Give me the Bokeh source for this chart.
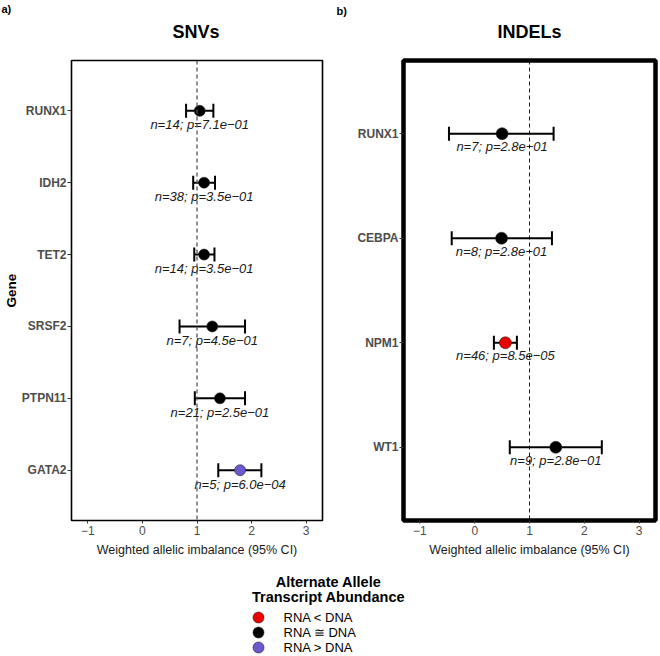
from bokeh.plotting import figure
from bokeh.models import FactorRange, Range1d, FixedTicker, ColumnDataSource, Span
from bokeh.layouts import column, row
from bokeh.core.properties import value
from bokeh.embed import file_html
from bokeh.resources import INLINE

# ---------------- data ----------------
snv_genes = ["RUNX1", "IDH2", "TET2", "SRSF2", "PTPN11", "GATA2"]
snv_est = [1.05, 1.13, 1.13, 1.28, 1.42, 1.79]
snv_lo = [0.80, 0.93, 0.95, 0.68, 0.96, 1.39]
snv_hi = [1.30, 1.33, 1.32, 1.88, 1.88, 2.18]
snv_n = [14, 38, 14, 7, 21, 5]
snv_p = ["7.1e\u221201", "3.5e\u221201", "3.5e\u221201", "4.5e\u221201", "2.5e\u221201", "6.0e\u221204"]
snv_class = ["RNA \u2245 DNA"] * 5 + ["RNA > DNA"]

indel_genes = ["RUNX1", "CEBPA", "NPM1", "WT1"]
indel_est = [0.50, 0.49, 0.56, 1.48]
indel_lo = [-0.47, -0.42, 0.35, 0.64]
indel_hi = [1.44, 1.41, 0.77, 2.32]
indel_n = [7, 8, 46, 9]
indel_p = ["2.8e\u221201", "2.8e\u221201", "8.5e\u221205", "2.8e\u221201"]
indel_class = ["RNA \u2245 DNA", "RNA \u2245 DNA", "RNA < DNA", "RNA \u2245 DNA"]

panel_titles = ["SNVs", "INDELs"]
panel_tags = ["a)", "b)"]

legend_title = ["Alternate Allele", "Transcript Abundance"]
legend_labels = ["RNA < DNA", "RNA \u2245 DNA", "RNA > DNA"]
legend_colors = ["#E60000", "#000000", "#6A5ACD"]
color_map = dict(zip(legend_labels, legend_colors))

x_ticks = [-1, 0, 1, 2, 3]
x_tick_labels = {-1: "\u22121", 0: "0", 1: "1", 2: "2", 3: "3"}

FONT = "Liberation Sans"
W_LEFT, W_RIGHT = 338, 321
W = W_LEFT + W_RIGHT
STRIP_H = 56
PANEL_H = 506
FRAME_PAD_TOP = 4
FRAME_H = 460
LH = 93


def make_panel(genes, est, lo, hi, n, pv, cls, width, bl, br,
               outline_w, dash_color, dash_w, pt_size, ylabel, label_off):
    src = ColumnDataSource(dict(
        gene=genes, est=est, lo=lo, hi=hi,
        lab=["n=%d; p=%s" % (a, b) for a, b in zip(n, pv)],
        col=[color_map[c] for c in cls],
    ))
    p = figure(width=width, height=PANEL_H, output_backend="svg", toolbar_location=None,
               x_range=Range1d(-1.3, 3.3),
               y_range=FactorRange(factors=list(reversed(genes)), range_padding=0.2,
                                   range_padding_units="absolute"),
               min_border_left=bl, min_border_right=br, min_border_top=FRAME_PAD_TOP,
               min_border_bottom=PANEL_H - FRAME_PAD_TOP - FRAME_H)
    p.grid.visible = False
    p.outline_line_color = "black"
    p.outline_line_width = outline_w
    p.background_fill_color = "white"
    p.border_fill_color = "white"

    p.add_layout(Span(location=1, dimension="height", line_color=dash_color,
                      line_width=dash_w, line_dash="4 3"))

    p.segment(x0="lo", x1="hi", y0="gene", y1="gene", source=src, line_color="black", line_width=2)
    p.scatter(x="lo", y="gene", source=src, marker="dash", angle=1.5708, size=14,
              line_color="black", line_width=2)
    p.scatter(x="hi", y="gene", source=src, marker="dash", angle=1.5708, size=14,
              line_color="black", line_width=2)
    p.scatter(x="est", y="gene", source=src, marker="circle", size=pt_size,
              fill_color="col", line_color="#222222", line_width=0.6)
    p.text(x="est", y="gene", text="lab", source=src, y_offset=label_off,
           text_align="center", text_baseline="middle", text_font=value(FONT),
           text_font_style="italic", text_font_size="13px", text_color="#1a1a1a")

    xa = p.xaxis[0]
    xa.ticker = FixedTicker(ticks=x_ticks)
    xa.major_label_overrides = x_tick_labels
    xa.axis_label = "Weighted allelic imbalance (95% CI)"
    xa.axis_label_text_font = FONT
    xa.axis_label_text_font_style = "normal"
    xa.axis_label_text_font_size = "12.5px"
    xa.axis_label_text_color = "#1a1a1a"
    xa.axis_label_standoff = 5
    xa.major_label_text_font = FONT
    xa.major_label_text_font_size = "12px"
    xa.major_label_text_color = "#4d4d4d"
    xa.major_label_standoff = 2
    xa.axis_line_color = None
    xa.major_tick_line_color = "#333333"
    xa.major_tick_in = 0
    xa.major_tick_out = 3
    xa.minor_tick_line_color = None

    ya = p.yaxis[0]
    ya.major_label_text_font = FONT
    ya.major_label_text_font_style = "bold"
    ya.major_label_text_font_size = "12px"
    ya.major_label_text_color = "#4d4d4d"
    ya.major_label_standoff = 1
    ya.axis_line_color = None
    ya.major_tick_line_color = "#333333"
    ya.major_tick_in = 0
    ya.major_tick_out = 4
    ya.minor_tick_line_color = None
    if ylabel:
        ya.axis_label = ylabel
        ya.axis_label_text_font = FONT
        ya.axis_label_text_font_style = "bold"
        ya.axis_label_text_font_size = "13.5px"
        ya.axis_label_text_color = "black"
        ya.axis_label_standoff = 0
    return p


def blank(width, height):
    f = figure(width=width, height=height, output_backend="svg", toolbar_location=None,
               x_range=Range1d(0, width), y_range=Range1d(height, 0), min_border=0)
    f.axis.visible = False
    f.grid.visible = False
    f.outline_line_color = None
    f.background_fill_color = "white"
    f.border_fill_color = "white"
    return f


p1 = make_panel(snv_genes, snv_est, snv_lo, snv_hi, snv_n, snv_p, snv_class,
                W_LEFT, 69, 16, 1.6, "#555555", 1.3, 11, "Gene", 14)
p2 = make_panel(indel_genes, indel_est, indel_lo, indel_hi, indel_n, indel_p, indel_class,
                W_RIGHT, 65, 4, 4.5, "black", 0.9, 12, None, 13)

# ---------------- strip with panel tags and titles ----------------
strip = blank(W, STRIP_H)
strip.text(x=[1, W_LEFT - 2], y=[8, 10], text=panel_tags, text_align="left",
           text_baseline="middle", text_font=value(FONT), text_font_style="bold",
           text_font_size="11px", text_color="black")
strip.text(x=[69 + (W_LEFT - 16 - 69) / 2, W_LEFT + 65 + (W_RIGHT - 4 - 65) / 2], y=[31, 31],
           text=panel_titles, text_align="center", text_baseline="middle",
           text_font=value(FONT), text_font_style="bold", text_font_size="18px",
           text_color="black")

# ---------------- legend ----------------
pl = blank(W, LH)
leg_src = ColumnDataSource(dict(
    lab=legend_labels, col=legend_colors,
    y=[55 + 15 * i for i in range(len(legend_labels))],
))
pl.scatter(x=258, y="y", source=leg_src, marker="circle", size=11,
           fill_color="col", line_color="#222222", line_width=0.6)
pl.text(x=283, y="y", text="lab", source=leg_src, text_align="left", text_baseline="middle",
        text_font=value(FONT), text_font_size="13px", text_color="black")
pl.text(x=[328, 328], y=[19, 34], text=legend_title,
        text_align="center", text_baseline="middle", text_font=value(FONT),
        text_font_style="bold", text_font_size="14.5px", text_color="black")

layout = column(strip, row(p1, p2), pl)
open("out.html", "w").write(file_html(layout, INLINE))
